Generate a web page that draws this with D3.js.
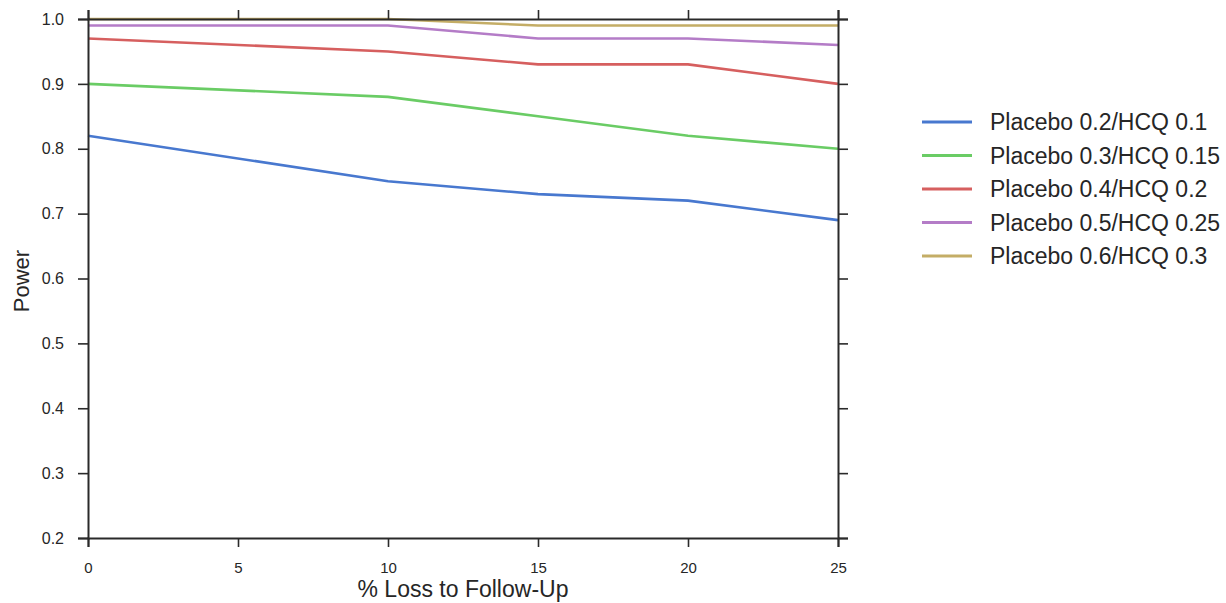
<!doctype html>
<html lang="en">
<head>
    <meta charset="utf-8"/>
    <title>Power vs loss to follow-up</title>
    <script src="https://d3js.org/d3.v7.min.js"></script>
    <style>
        body { margin: 0; padding: 0; background: #fff; }
        text { font-family: 'Liberation Sans', Arial, sans-serif; fill: #262626; }
    </style>
</head>
<body>
<script>
    // datos
    const lossPct = [0, 10, 15, 20, 25]
    const seriesNames = [
        'Placebo 0.2/HCQ 0.1',
        'Placebo 0.3/HCQ 0.15',
        'Placebo 0.4/HCQ 0.2',
        'Placebo 0.5/HCQ 0.25',
        'Placebo 0.6/HCQ 0.3'
    ]
    const power02 = [0.82, 0.75, 0.73, 0.72, 0.69]
    const power03 = [0.90, 0.88, 0.85, 0.82, 0.80]
    const power04 = [0.97, 0.95, 0.93, 0.93, 0.90]
    const power05 = [0.99, 0.99, 0.97, 0.97, 0.96]
    const power06 = [1.00, 1.00, 0.99, 0.99, 0.99]
    const xTicks = [0, 5, 10, 15, 20, 25]
    const yTicks = [0.2, 0.3, 0.4, 0.5, 0.6, 0.7, 0.8, 0.9, 1.0]

    const allSeries = [power02, power03, power04, power05, power06]
    const colors = ['#4878CF', '#6ACC65', '#D65F5F', '#B47CC7', '#C4AD66']

    const width = 1226, height = 603
    const mLeft = 88, mRight = 838, mTop = 19, mBottom = 538

    const svg = d3.select('body').append('svg')
        .attr('width', width)
        .attr('height', height)

    const x = d3.scaleLinear().domain([0, 25]).range([mLeft, mRight])
    const y = d3.scaleLinear().domain([0.2, 1.0]).range([mBottom, mTop])

    // lineas
    const line = d3.line()
        .x((d, i) => x(lossPct[i]))
        .y(d => y(d))

    const plot = svg.append('g')
    allSeries.forEach(function (s, k) {
        plot.append('path')
            .datum(s)
            .attr('d', line)
            .attr('fill', 'none')
            .attr('stroke', colors[k])
            .attr('stroke-width', 2.6)
    })

    // ejes (ticks hacia afuera en los cuatro lados)
    const axisColor = '#2a2a2a'
    const xb = svg.append('g').attr('transform', `translate(0,${mBottom})`)
        .call(d3.axisBottom(x).tickValues(xTicks).tickSize(9).tickPadding(15).tickFormat(d3.format('d')))
    const xt = svg.append('g').attr('transform', `translate(0,${mTop})`)
        .call(d3.axisTop(x).tickValues(xTicks).tickSize(9).tickFormat(''))
    const yl = svg.append('g').attr('transform', `translate(${mLeft},0)`)
        .call(d3.axisLeft(y).tickValues(yTicks).tickSize(10).tickPadding(14).tickFormat(d3.format('.1f')))
    const yr = svg.append('g').attr('transform', `translate(${mRight},0)`)
        .call(d3.axisRight(y).tickValues(yTicks).tickSize(10).tickFormat(''))

    ;[xb, xt, yl, yr].forEach(function (g) {
        g.select('.domain').attr('stroke', axisColor).attr('stroke-width', 2)
        g.selectAll('.tick line').attr('stroke', axisColor).attr('stroke-width', 1.6)
    })

    yl.selectAll('.tick text')
        .style('font-size', '16px')
        .attr('fill', axisColor)

    xb.selectAll('.tick text')
        .style('font-size', '15px')
        .attr('fill', axisColor)

    // titulos de los ejes
    svg.append('text')
        .attr('x', (mLeft + mRight) / 2)
        .attr('y', 597)
        .attr('text-anchor', 'middle')
        .style('font-size', '23px')
        .text('% Loss to Follow-Up')

    svg.append('text')
        .attr('transform', `translate(29,281) rotate(-90)`)
        .attr('text-anchor', 'middle')
        .style('font-size', '22px')
        .text('Power')

    // leyenda
    const legend = svg.append('g').attr('transform', 'translate(922,122)')
    seriesNames.forEach(function (name, k) {
        const row = legend.append('g').attr('transform', `translate(0,${k * 33.5})`)
        row.append('line')
            .attr('x1', 0).attr('x2', 50)
            .attr('stroke', colors[k])
            .attr('stroke-width', 2.8)
        row.append('text')
            .attr('x', 68)
            .attr('dy', '0.35em')
            .style('font-size', '23px')
            .text(name)
    })
</script>
</body>
</html>
